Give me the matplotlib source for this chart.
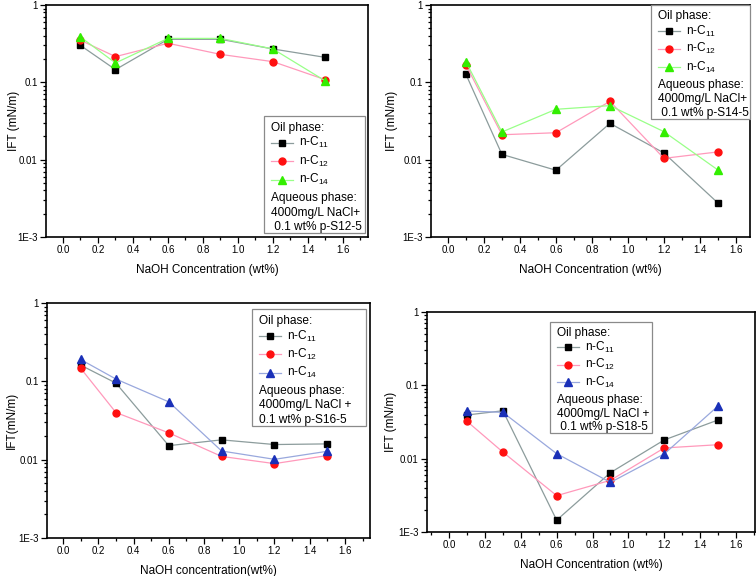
import matplotlib
matplotlib.use("Agg")
import matplotlib.pyplot as plt
from matplotlib.patches import Rectangle
from matplotlib.lines import Line2D
from matplotlib.ticker import FixedLocator, MultipleLocator, LogLocator, NullFormatter

plt.rcParams['font.family'] = ['Liberation Sans', 'DejaVu Sans']
plt.rcParams['mathtext.default'] = 'regular'

naoh = [0.1, 0.3, 0.6, 0.9, 1.2, 1.5]
series_labels = ["n-C$_{11}$", "n-C$_{12}$", "n-C$_{14}$"]

# Panel a: p-S12-5
a_c11 = [0.30, 0.146, 0.36, 0.36, 0.27, 0.21]
a_c12 = [0.35, 0.215, 0.32, 0.23, 0.185, 0.108]
a_c14 = [0.385, 0.178, 0.37, 0.37, 0.27, 0.104]
# Panel b: p-S14-5
b_c11 = [0.127, 0.0117, 0.0073, 0.0295, 0.0122, 0.00275]
b_c12 = [0.168, 0.021, 0.0223, 0.0568, 0.0104, 0.0126]
b_c14 = [0.185, 0.0228, 0.0448, 0.050, 0.023, 0.00735]
# Panel c: p-S16-5
c_c11 = [0.161, 0.095, 0.0151, 0.0179, 0.0156, 0.0159]
c_c12 = [0.147, 0.040, 0.022, 0.011, 0.0089, 0.0113]
c_c14 = [0.19, 0.107, 0.0547, 0.0129, 0.0101, 0.0128]
# Panel d: p-S18-5
d_c11 = [0.0394, 0.045, 0.00145, 0.00645, 0.018, 0.0337]
d_c12 = [0.0323, 0.0123, 0.00313, 0.00507, 0.014, 0.0155]
d_c14 = [0.0447, 0.0428, 0.0117, 0.00475, 0.0116, 0.0523]

xticks = [0.0, 0.2, 0.4, 0.6, 0.8, 1.0, 1.2, 1.4, 1.6]
yticks = [0.001, 0.01, 0.1, 1]
yticklabels = ["1E-3", "0.01", "0.1", "1"]

fig = plt.figure(figsize=(7.56, 5.76), dpi=100)

styles_green = [
    dict(color='#8c9c9c', marker='s', mfc='black', mec='black', ms=4.2),
    dict(color='#ff99bb', marker='o', mfc='#ff1010', mec='#ff1010', ms=5),
    dict(color='#99ff88', marker='^', mfc='#33ee00', mec='#33ee00', ms=5.5),
]
styles_blue = [
    styles_green[0], styles_green[1],
    dict(color='#99a8dd', marker='^', mfc='#1a30b8', mec='#1a30b8', ms=5.5),
]

ROWS = [0.10, 0.23, 0.385, 0.545, 0.705, 0.825, 0.95]

panels = [
    dict(rect=[46/756, 1-237/576, 322/756, 232/576], xlim=(-0.097, 1.743),
         data=[a_c11, a_c12, a_c14], styles=styles_green,
         xlabel="NaOH Concentration (wt%)", ylabel="IFT (mN/m)", ypad=-2,
         box=(0.677, 0.017, 0.99, 0.522), aq=["Aqueous phase:", "4000mg/L NaCl+", " 0.1 wt% p-S12-5"]),
    dict(rect=[431/756, 1-237/576, 319/756, 232/576], xlim=(-0.094, 1.678),
         data=[b_c11, b_c12, b_c14], styles=styles_green,
         xlabel="NaOH Concentration (wt%)", ylabel="IFT (mN/m)", ypad=3,
         box=(0.69, 0.51, 1.0, 1.0), aq=["Aqueous phase:", "4000mg/L NaCl+", " 0.1 wt% p-S14-5"]),
    dict(rect=[47/756, 1-538/576, 323/756, 235/576], xlim=(-0.091, 1.742),
         data=[c_c11, c_c12, c_c14], styles=styles_blue,
         xlabel="NaOH concentration(wt%)", ylabel="IFT(mN/m)", ypad=0.5,
         box=(0.635, 0.477, 0.988, 0.974), aq=["Aqueous phase:", "4000mg/L NaCl +", "0.1 wt% p-S16-5"]),
    dict(rect=[427/756, 1-532/576, 328/756, 220/576], xlim=(-0.123, 1.706),
         data=[d_c11, d_c12, d_c14], styles=styles_blue,
         xlabel="NaOH Concentration (wt%)", ylabel="IFT (mN/m)", ypad=0.5,
         box=(0.375, 0.45, 0.686, 0.955), aq=["Aqueous phase:", "4000mg/L NaCl +", " 0.1 wt% p-S18-5"]),
]

FS = 8.6
for p in panels:
    ax = fig.add_axes(p['rect'])
    ax.set_yscale('log')
    for vals, st, lab in zip(p['data'], p['styles'], series_labels):
        ax.plot(naoh, vals, lw=0.9, label=lab, **st)
    ax.set_xlim(*p['xlim'])
    ax.set_ylim(0.001, 1)
    ax.xaxis.set_major_locator(FixedLocator(xticks))
    ax.xaxis.set_minor_locator(MultipleLocator(0.1))
    ax.set_xticklabels([f"{t:.1f}" for t in xticks])
    ax.yaxis.set_major_locator(FixedLocator(yticks))
    ax.set_yticklabels(yticklabels)
    ax.yaxis.set_minor_locator(LogLocator(base=10, subs=range(2, 10)))
    ax.yaxis.set_minor_formatter(NullFormatter())
    ax.tick_params(which='both', direction='out', top=False, right=False,
                   labelsize=7, width=0.9, pad=2)
    ax.tick_params(which='major', length=4)
    ax.tick_params(which='minor', length=2)
    for s in ax.spines.values():
        s.set_linewidth(1.2)
    ax.set_xlabel(p['xlabel'], fontsize=8.5, labelpad=6)
    ax.set_ylabel(p['ylabel'], fontsize=8.5, labelpad=p['ypad'])

    # legend box
    x0, y0, x1, y1 = p['box']
    ax.add_patch(Rectangle((x0, y0), x1 - x0, y1 - y0, transform=ax.transAxes,
                           fill=True, facecolor='white', edgecolor='#8a8a8a', lw=0.9,
                           zorder=5, clip_on=False))
    axw = p['rect'][2] * 756
    bh = y1 - y0
    def ry(f):
        return y1 - f * bh
    tx = x0 + 7 / axw
    h0 = x0 + 7 / axw
    h1 = x0 + 29 / axw
    lx = x0 + 35 / axw
    ax.text(tx, ry(ROWS[0]), "Oil phase:", transform=ax.transAxes, fontsize=FS,
            va='center', ha='left', zorder=6)
    for i, (st, lab) in enumerate(zip(p['styles'], series_labels)):
        yy = ry(ROWS[i + 1])
        ax.add_line(Line2D([h0, h1], [yy, yy], transform=ax.transAxes, lw=0.9,
                           color=st['color'], zorder=6, clip_on=False))
        ax.add_line(Line2D([(h0 + h1) / 2], [yy], transform=ax.transAxes, lw=0,
                           marker=st['marker'], mfc=st['mfc'], mec=st['mec'], ms=st['ms'],
                           zorder=7, clip_on=False))
        ax.text(lx, yy, lab, transform=ax.transAxes, fontsize=FS, va='center',
                ha='left', zorder=6)
    for j, t in enumerate(p['aq']):
        ax.text(tx, ry(ROWS[4 + j]), t, transform=ax.transAxes, fontsize=FS,
                va='center', ha='left', zorder=6)

fig.savefig("out.png", dpi=100)
